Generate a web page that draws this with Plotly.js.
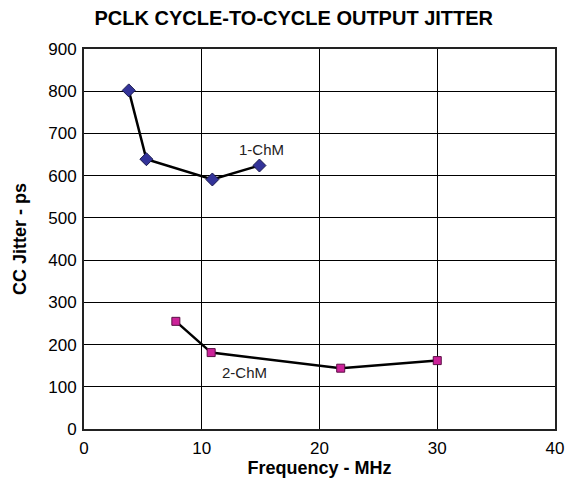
<!DOCTYPE html>
<html><head><meta charset="utf-8">
<script src="https://cdn.plot.ly/plotly-3.0.1.min.js"></script>
<style>html,body{margin:0;padding:0;background:#fff}#c{width:565px;height:485px}</style>
</head><body><div id="c"></div>
<script>
const freq1 = [3.8, 5.3, 10.9, 14.9];
const jitter1 = [802, 639, 591, 624];
const freq2 = [7.8, 10.8, 21.8, 30];
const jitter2 = [255, 181, 144, 162];
const xTicks = [0, 10, 20, 30, 40];
const yTicks = [0, 100, 200, 300, 400, 500, 600, 700, 800, 900];
const seriesNames = ["1-ChM", "2-ChM"];

const font = "Liberation Sans, Arial, sans-serif";
const data = [
  {x: freq1, y: jitter1, mode: "lines+markers", name: seriesNames[0],
   line: {color: "#000", width: 2.5},
   marker: {symbol: "diamond", size: 10, color: "#333399", line: {color: "#1a1a4d", width: 1}}},
  {x: freq2, y: jitter2, mode: "lines+markers", name: seriesNames[1],
   line: {color: "#000", width: 2.5},
   marker: {symbol: "square", size: 8, color: "#CC2299", line: {color: "#5a0f44", width: 1}}}
];
const layout = {
  width: 565, height: 485,
  margin: {l: 84, r: 10, t: 49, b: 56},
  paper_bgcolor: "#fff", plot_bgcolor: "#fff",
  showlegend: false,
  font: {family: font, size: 17, color: "#000"},
  title: {text: "<b>PCLK CYCLE-TO-CYCLE OUTPUT JITTER</b>", font: {size: 20, family: font, color: "#000"},
          x: 0.52, xref: "container", y: 0.963, yanchor: "middle"},
  xaxis: {range: [0, 40], tickvals: xTicks, ticktext: xTicks.map(String),
          showgrid: true, gridcolor: "#000", gridwidth: 1, zeroline: false,
          showline: true, linecolor: "#222", linewidth: 2, mirror: true,
          ticks: "", tickfont: {size: 17}, ticklabelstandoff: 3,
          title: {text: "<b>Frequency - MHz</b>", font: {size: 18}, standoff: 2}},
  yaxis: {range: [0, 900], tickvals: yTicks, ticktext: yTicks.map(String),
          showgrid: true, gridcolor: "#000", gridwidth: 1, zeroline: false,
          showline: true, linecolor: "#222", linewidth: 2, mirror: true,
          ticks: "", tickfont: {size: 17}, ticklabelstandoff: 2,
          title: {text: "<b>CC Jitter - ps</b>", font: {size: 18}, standoff: 17}},
  annotations: [
    {x: freq1[3], y: jitter1[3], xref: "x", yref: "y", text: seriesNames[0], showarrow: false,
     xshift: 2, yshift: 16, xanchor: "center", font: {size: 15, color: "#222"}},
    {x: freq2[1], y: jitter2[1], xref: "x", yref: "y", text: seriesNames[1], showarrow: false,
     xshift: 33, yshift: -20, xanchor: "center", font: {size: 15, color: "#222"}}
  ]
};
Plotly.newPlot("c", data, layout, {displayModeBar: false, staticPlot: true});
</script></body></html>
